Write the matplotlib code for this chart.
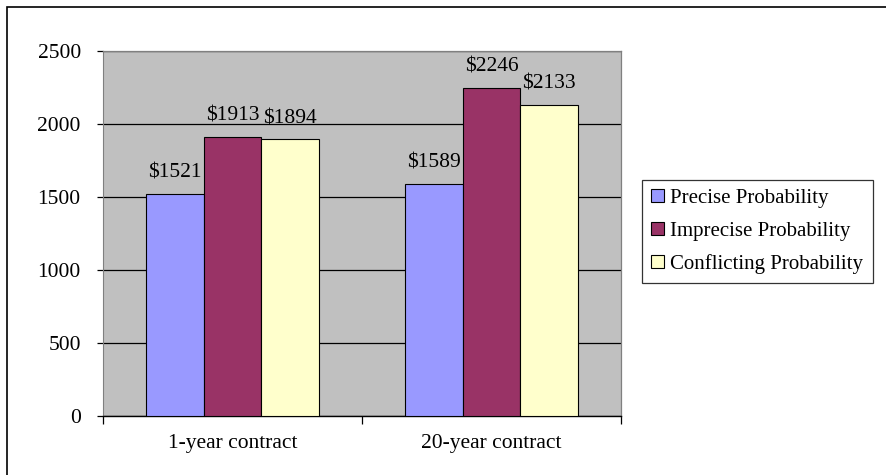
import matplotlib
matplotlib.use("Agg")
import matplotlib.pyplot as plt
from matplotlib.patches import Rectangle
import numpy as np

plt.rcParams['font.family'] = ['Liberation Serif', 'DejaVu Serif']

categories = ["1-year contract", "20-year contract"]
series_names = ["Precise Probability", "Imprecise Probability", "Conflicting Probability"]
precise = [1521, 1589]
imprecise = [1913, 2246]
conflicting = [1894, 2133]
colors = ["#9999FF", "#993366", "#FFFFCC"]
yticks = [0, 500, 1000, 1500, 2000, 2500]

FS = 15.5
W, H = 886, 475
fig = plt.figure(figsize=(W / 100, H / 100), dpi=100)
ax = fig.add_axes([103 / W, 1 - 416 / H, (621 - 103) / W, (416 - 51) / H])
ax.set_facecolor("#C0C0C0")

# outer frame
fig.patches.append(Rectangle((7 / W, -0.05), 1.2, 1 - 7 / H + 0.05, transform=fig.transFigure,
                             fill=False, edgecolor="black", linewidth=1.2))

series = [precise, imprecise, conflicting]
x = np.arange(len(categories))
bw = 1 / (3 + 1.5)
for i, (vals, name, col) in enumerate(zip(series, series_names, colors)):
    pos = x + (i - 1) * bw
    bars = ax.bar(pos, vals, width=bw, color=col, edgecolor="black", linewidth=0.8,
                  label=name, zorder=3)
    for b, v in zip(bars, vals):
        ax.annotate(f"${v}", (b.get_x() + b.get_width() / 2, v), xytext=(0, 8),
                    textcoords="offset points", ha="center", va="bottom", fontsize=FS)

ax.set_xlim(-0.5, 1.5)
ax.set_ylim(0, 2500)
ax.set_yticks(yticks)
ax.set_yticklabels([str(t) for t in yticks], fontsize=FS)
ax.yaxis.grid(True, color="black", linewidth=0.9, zorder=1)
ax.set_axisbelow(True)
ax.tick_params(axis="y", direction="out", length=4, width=0.9, pad=12)

ax.set_xticks([-0.5, 0.5, 1.5])
ax.set_xticklabels(["", "", ""])
ax.tick_params(axis="x", which="major", direction="out", length=6, width=0.9)
ax.set_xticks(x, minor=True)
ax.set_xticklabels(categories, minor=True, fontsize=FS)
ax.tick_params(axis="x", which="minor", length=0, pad=13)

for s in ["top", "right"]:
    ax.spines[s].set_color("#808080")
    ax.spines[s].set_linewidth(0.9)
ax.spines["left"].set_color("#808080")
ax.spines["bottom"].set_color("black")
ax.spines["bottom"].set_linewidth(1.0)

leg = fig.legend(loc="center left", bbox_to_anchor=(642 / W, 1 - 231.5 / H), fontsize=15,
                 handlelength=0.6, handleheight=0.6, handletextpad=0.3, labelspacing=0.65,
                 borderpad=0.45, fancybox=False, frameon=True, borderaxespad=0)
leg.get_frame().set_edgecolor("black")
leg.get_frame().set_linewidth(0.9)

fig.savefig("out.png", dpi=100)
